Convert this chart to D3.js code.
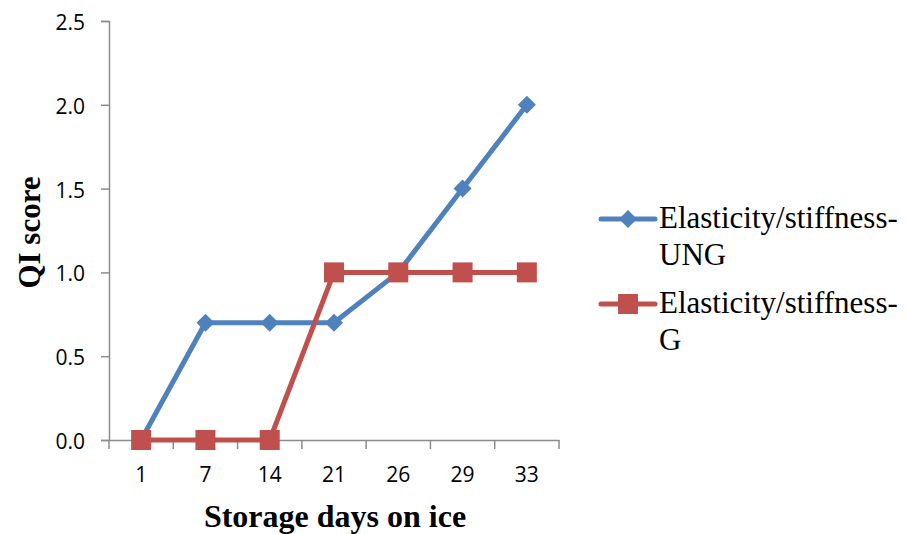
<!DOCTYPE html>
<html>
<head>
<meta charset="utf-8">
<script src="https://cdn.jsdelivr.net/npm/d3@7"></script>
<style>
  html, body { margin: 0; padding: 0; background: #fff; }
  svg { display: block; }
</style>
</head>
<body>
<svg id="chart" width="907" height="534"></svg>
<script>
// Storage days on ice (categories) and QI scores for each series
const days = ["1", "7", "14", "21", "26", "29", "33"];
const ungScores = [0, 0.7, 0.7, 0.7, 1.0, 1.5, 2.0];
const gScores = [0, 0, 0, 1.0, 1.0, 1.0, 1.0];
const yTicks = [0, 0.5, 1.0, 1.5, 2.0, 2.5];
const seriesNames = ["Elasticity/stiffness-UNG", "Elasticity/stiffness-G"];

const svg = d3.select("#chart");
const plot = { left: 109, right: 559, top: 21, bottom: 440 };
const axisColor = "#8c8c8c";
const tickFont = "'Open Sans', 'Noto Sans', sans-serif";
const serif = "'Liberation Serif', 'Times New Roman', serif";

const x = d3.scaleBand().domain(days).range([plot.left, plot.right]);
const y = d3.scaleLinear().domain([0, 2.5]).range([plot.bottom, plot.top]);

// Y axis
const yAxis = svg.append("g")
  .attr("transform", `translate(${plot.left},0)`)
  .call(d3.axisLeft(y).tickValues(yTicks).tickFormat(d3.format(".1f")).tickSize(8).tickPadding(16));
yAxis.select(".domain").attr("stroke", axisColor).attr("stroke-width", 1.5);
yAxis.selectAll(".tick line").attr("stroke", axisColor).attr("stroke-width", 1.5);
yAxis.selectAll(".tick text").attr("font-family", tickFont).attr("font-size", 21)
  .attr("dy", "0.4em").attr("fill", "#000");

// X axis: ticks on band boundaries
const xAxis = svg.append("g")
  .attr("transform", `translate(0,${plot.bottom})`)
  .call(d3.axisBottom(x).tickSize(0).tickPadding(27));
xAxis.select(".domain").attr("stroke", axisColor).attr("stroke-width", 1.5);
xAxis.selectAll(".tick text").attr("font-family", tickFont).attr("font-size", 21).attr("fill", "#000");
const bounds = days.map(d => x(d)).concat([x(days[days.length - 1]) + x.bandwidth()]);
xAxis.selectAll("line.bound").data(bounds).enter().append("line")
  .attr("class", "bound")
  .attr("x1", d => d).attr("x2", d => d)
  .attr("y1", 0).attr("y2", 9)
  .attr("stroke", axisColor).attr("stroke-width", 1.5);

// Axis titles
svg.append("text")
  .attr("x", (plot.left + plot.right) / 2 + 1)
  .attr("y", 527)
  .attr("text-anchor", "middle")
  .attr("font-family", serif).attr("font-weight", "bold").attr("font-size", 32)
  .text("Storage days on ice");
svg.append("text")
  .attr("transform", `translate(40,${(plot.top + plot.bottom) / 2 + 2}) rotate(-90)`)
  .attr("text-anchor", "middle")
  .attr("font-family", serif).attr("font-weight", "bold").attr("font-size", 31)
  .text("QI score");

const cx = d => x(d) + x.bandwidth() / 2;
const line = d3.line().x(d => cx(d.day)).y(d => y(d.v));

const series = [
  { name: seriesNames[0], values: ungScores, color: "#4F81BD", shape: "diamond" },
  { name: seriesNames[1], values: gScores, color: "#C0504D", shape: "square" }
];

function drawMarker(g, shape, color) {
  if (shape === "diamond") {
    g.append("path").attr("d", "M0,-9L9,0L0,9L-9,0Z").attr("fill", color);
  } else {
    g.append("rect").attr("x", -10).attr("y", -10).attr("width", 20).attr("height", 20).attr("fill", color);
  }
}

series.forEach(s => {
  const pts = days.map((d, i) => ({ day: d, v: s.values[i] }));
  svg.append("path").datum(pts)
    .attr("d", line).attr("fill", "none")
    .attr("stroke", s.color).attr("stroke-width", 5).attr("stroke-linejoin", "round");
  pts.forEach(p => {
    const g = svg.append("g").attr("transform", `translate(${cx(p.day)},${y(p.v)})`);
    drawMarker(g, s.shape, s.color);
  });
});

// Legend
const legendRows = [
  { y: 219, lines: ["Elasticity/stiffness-", "UNG"] },
  { y: 304, lines: ["Elasticity/stiffness-", "G"] }
];
legendRows.forEach((r, i) => {
  const s = series[i];
  svg.append("line").attr("x1", 601).attr("x2", 655).attr("y1", r.y).attr("y2", r.y)
    .attr("stroke", s.color).attr("stroke-width", 5).attr("stroke-linecap", "round");
  const g = svg.append("g").attr("transform", `translate(628,${r.y})`);
  drawMarker(g, s.shape, s.color);
  const t = svg.append("text").attr("x", 659).attr("y", r.y + 9)
    .attr("font-family", serif).attr("font-size", 31).attr("fill", "#000");
  r.lines.forEach((l, j) => {
    t.append("tspan").attr("x", 659).attr("dy", j === 0 ? 0 : 37).text(l);
  });
});
</script>
</body>
</html>
